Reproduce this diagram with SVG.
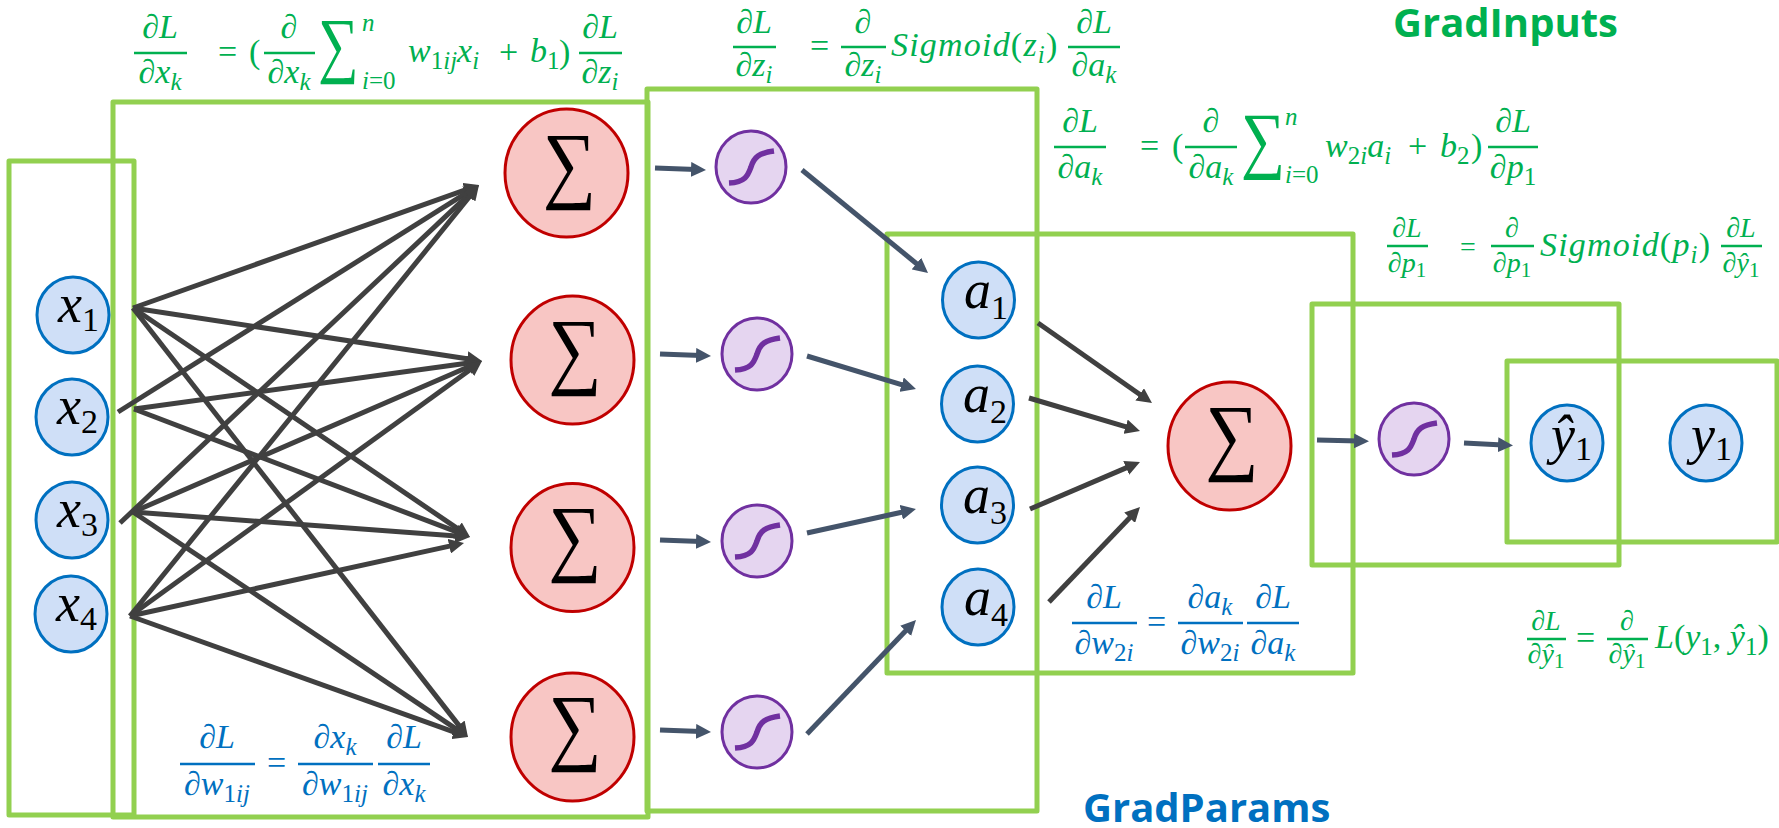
<svg xmlns="http://www.w3.org/2000/svg" width="1779" height="828" viewBox="0 0 1779 828">
<defs>
<style>
.box{fill:none;stroke:#92D050;stroke-width:5;stroke-linejoin:round}
.inp{fill:#CFDFF7;stroke:#0070C0;stroke-width:3}
.sum{fill:#F8C6C4;stroke:#C00000;stroke-width:3}
.sig{fill:#E5D5F0;stroke:#7030A0;stroke-width:3}
.curve{fill:none;stroke:#7030A0;stroke-width:5.5}
.dk{stroke:#404040;stroke-width:5;fill:none;marker-end:url(#hd)}
.sl{stroke:#44546A;stroke-width:5;fill:none;marker-end:url(#hs)}
text{font-family:"Liberation Serif","DejaVu Serif",serif}
.nl{font-size:54px;font-style:italic;fill:#000}
.ns{font-size:34px;font-style:normal}
.sg{font-size:86px;fill:#000;text-anchor:middle}
.g{fill:#00B050;font-style:italic;font-size:34px}
.b{fill:#0070C0;font-style:italic;font-size:34px}
.s{font-size:25px}
.m{text-anchor:middle}
.sm{font-size:28px}
.sms{font-size:21px}
.u{font-style:normal}
.bg{stroke:#00B050;stroke-width:2.5}
.bb{stroke:#0070C0;stroke-width:2.5}
.big{font-size:86px;font-style:normal;text-anchor:middle}
.wide{letter-spacing:1.2px}
.t{font-family:"Open Sans","Liberation Sans",sans-serif;font-weight:700;font-size:40px}
</style>
<marker id="hd" viewBox="0 0 3 3" refX="1" refY="1.5" markerWidth="3" markerHeight="3" orient="auto"><path d="M0 0L3 1.5L0 3z" fill="#404040"/></marker>
<marker id="hs" viewBox="0 0 3 3" refX="1" refY="1.5" markerWidth="3" markerHeight="3" orient="auto"><path d="M0 0L3 1.5L0 3z" fill="#44546A"/></marker>
</defs>
<g id="boxes">
<rect class="box" x="9" y="161" width="125" height="654"/>
<rect class="box" x="113" y="102" width="535" height="715"/>
<rect class="box" x="647" y="89" width="390" height="722"/>
<rect class="box" x="887" y="234" width="466" height="439"/>
<rect class="box" x="1312" y="304" width="307" height="261"/>
<rect class="box" x="1507" y="361" width="270" height="181"/>
</g>
<g id="connectors">
<line class="dk" x1="133" y1="308" x2="469.6" y2="188.4"/>
<line class="dk" x1="133" y1="308" x2="472.1" y2="359.5"/>
<line class="dk" x1="133" y1="308" x2="461.7" y2="531.4"/>
<line class="dk" x1="133" y1="308" x2="461.8" y2="729.1"/>
<line class="dk" x1="118" y1="412" x2="470.5" y2="190.3"/>
<line class="dk" x1="134" y1="409" x2="472.1" y2="362.4"/>
<line class="dk" x1="134" y1="409" x2="460.7" y2="533.4"/>
<line class="dk" x1="120" y1="523" x2="471.7" y2="191.9"/>
<line class="dk" x1="133" y1="512" x2="472.8" y2="365"/>
<line class="dk" x1="133" y1="512" x2="460" y2="536.3"/>
<line class="dk" x1="133" y1="512" x2="459.7" y2="731.4"/>
<line class="dk" x1="130" y1="616" x2="472.7" y2="192.8"/>
<line class="dk" x1="130" y1="616" x2="473.9" y2="366.9"/>
<line class="dk" x1="130" y1="616" x2="454.2" y2="545.1"/>
<line class="dk" x1="130" y1="616" x2="458.6" y2="733.6"/>
<line class="sl" x1="655" y1="168" x2="696" y2="169.6"/>
<line class="sl" x1="660" y1="354" x2="701" y2="355.6"/>
<line class="sl" x1="660" y1="540" x2="701" y2="541.6"/>
<line class="sl" x1="660" y1="730" x2="701" y2="731.6"/>
<line class="sl" x1="802" y1="170" x2="920.3" y2="266.7"/>
<line class="sl" x1="807" y1="356" x2="906.4" y2="386.1"/>
<line class="sl" x1="807" y1="533" x2="906.2" y2="511.2"/>
<line class="sl" x1="807" y1="734" x2="909.1" y2="627.2"/>
<line class="dk" x1="1038" y1="323" x2="1143.8" y2="397.3"/>
<line class="dk" x1="1029" y1="398" x2="1130.4" y2="428.2"/>
<line class="dk" x1="1030" y1="509" x2="1130.8" y2="465.9"/>
<line class="dk" x1="1049" y1="602" x2="1133.1" y2="514.2"/>
<line class="sl" x1="1317" y1="440" x2="1359" y2="441"/>
<line class="sl" x1="1464" y1="443" x2="1503" y2="445"/>
</g>
<g id="x1"><ellipse class="inp" cx="73" cy="315" rx="36" ry="38"/><text class="nl" x="58" y="322">x<tspan class="ns" dy="9">1</tspan></text></g>
<g id="x2"><ellipse class="inp" cx="72" cy="417" rx="36" ry="38"/><text class="nl" x="57" y="424">x<tspan class="ns" dy="9">2</tspan></text></g>
<g id="x3"><ellipse class="inp" cx="72" cy="520" rx="36" ry="38"/><text class="nl" x="57" y="527">x<tspan class="ns" dy="9">3</tspan></text></g>
<g id="x4"><ellipse class="inp" cx="71" cy="614" rx="36" ry="38"/><text class="nl" x="56" y="621">x<tspan class="ns" dy="9">4</tspan></text></g>
<g id="sum1"><ellipse class="sum" cx="566.5" cy="173" rx="61.5" ry="64"/><text class="sg" transform="translate(569.5 192) scale(.87 1)">∑</text></g>
<g id="sum2"><ellipse class="sum" cx="572.5" cy="360" rx="61.5" ry="64"/><text class="sg" transform="translate(575 378) scale(.87 1)">∑</text></g>
<g id="sum3"><ellipse class="sum" cx="572.5" cy="547.5" rx="61.5" ry="64"/><text class="sg" transform="translate(575 565) scale(.87 1)">∑</text></g>
<g id="sum4"><ellipse class="sum" cx="572.5" cy="737" rx="61.5" ry="64"/><text class="sg" transform="translate(575 754) scale(.87 1)">∑</text></g>
<g id="sum5"><ellipse class="sum" cx="1229.5" cy="446" rx="61.5" ry="64"/><text class="sg" transform="translate(1232 464) scale(.87 1)">∑</text></g>
<g id="sig1"><ellipse class="sig" cx="751" cy="167" rx="35" ry="36"/><path class="curve" transform="translate(751 167)" d="M-22 16C-5 15-3 8 0 0C3-10 8-14 23-16"/></g>
<g id="sig2"><ellipse class="sig" cx="757" cy="354" rx="35" ry="36"/><path class="curve" transform="translate(757 354)" d="M-22 16C-5 15-3 8 0 0C3-10 8-14 23-16"/></g>
<g id="sig3"><ellipse class="sig" cx="757" cy="541" rx="35" ry="36"/><path class="curve" transform="translate(757 541)" d="M-22 16C-5 15-3 8 0 0C3-10 8-14 23-16"/></g>
<g id="sig4"><ellipse class="sig" cx="757" cy="732" rx="35" ry="36"/><path class="curve" transform="translate(757 732)" d="M-22 16C-5 15-3 8 0 0C3-10 8-14 23-16"/></g>
<g id="sig5"><ellipse class="sig" cx="1414" cy="439" rx="35" ry="36"/><path class="curve" transform="translate(1414 439)" d="M-22 16C-5 15-3 8 0 0C3-10 8-14 23-16"/></g>
<g id="a1"><ellipse class="inp" cx="978.5" cy="300" rx="36" ry="38"/><text class="nl" x="964" y="308">a<tspan class="ns" dy="11">1</tspan></text></g>
<g id="a2"><ellipse class="inp" cx="977.5" cy="404" rx="36" ry="38"/><text class="nl" x="963" y="412">a<tspan class="ns" dy="11">2</tspan></text></g>
<g id="a3"><ellipse class="inp" cx="977.5" cy="505" rx="36" ry="38"/><text class="nl" x="963" y="513">a<tspan class="ns" dy="11">3</tspan></text></g>
<g id="a4"><ellipse class="inp" cx="978" cy="607" rx="36" ry="38"/><text class="nl" x="964" y="615">a<tspan class="ns" dy="11">4</tspan></text></g>
<g id="yhat"><ellipse class="inp" cx="1567" cy="443" rx="36" ry="38"/><text class="nl" x="1551" y="453">ŷ<tspan class="ns" dy="7">1</tspan></text></g>
<g id="y1"><ellipse class="inp" cx="1706" cy="443" rx="36" ry="38"/><text class="nl" x="1691" y="453">y<tspan class="ns" dy="7">1</tspan></text></g>
<g id="eq1" class="g">
<line class="bg" x1="134" y1="53" x2="187" y2="53"/>
<text class="g m" x="160" y="38">∂L</text>
<text class="g m" x="160" y="83">∂x<tspan class="s" dy="7">k</tspan></text>
<text class="g" x="218" y="63"><tspan class="u">=</tspan></text>
<text class="g" x="249" y="63"><tspan class="u">(</tspan></text>
<line class="bg" x1="264" y1="53" x2="315" y2="53"/>
<text class="g m" x="289" y="38">∂</text>
<text class="g m" x="289" y="83">∂x<tspan class="s" dy="7">k</tspan></text>
<text class="g big" transform="translate(338.5 69) scale(.66 .85)">∑</text>
<text class="g s" x="362" y="31">n</text>
<text class="g s" x="362" y="89">i<tspan class="u">=0</tspan></text>
<text class="g" x="408" y="62">w<tspan class="s" dy="7"><tspan class="u">1</tspan>ij</tspan><tspan dy="-7">x</tspan><tspan class="s" dy="7">i</tspan></text>
<text class="g" x="499" y="63"><tspan class="u">+</tspan></text>
<text class="g" x="530" y="62">b<tspan class="s u" dy="7">1</tspan></text>
<text class="g" x="559" y="63"><tspan class="u">)</tspan></text>
<line class="bg" x1="579" y1="53" x2="622" y2="53"/>
<text class="g m" x="600" y="38">∂L</text>
<text class="g m" x="600" y="83">∂z<tspan class="s" dy="7">i</tspan></text>
</g>
<g id="eq2" class="g">
<line class="bg" x1="733" y1="47" x2="776" y2="47"/>
<text class="g m" x="754" y="33">∂L</text>
<text class="g m" x="754" y="76">∂z<tspan class="s" dy="7">i</tspan></text>
<text class="g" x="810" y="57"><tspan class="u">=</tspan></text>
<line class="bg" x1="841" y1="47" x2="886" y2="47"/>
<text class="g m" x="863" y="33">∂</text>
<text class="g m" x="863" y="76">∂z<tspan class="s" dy="7">i</tspan></text>
<text class="g wide" x="891" y="56">Sigmoid<tspan class="u">(</tspan>z<tspan class="s" dy="7">i</tspan><tspan class="u" dy="-7">)</tspan></text>
<line class="bg" x1="1068" y1="47" x2="1120" y2="47"/>
<text class="g m" x="1094" y="33">∂L</text>
<text class="g m" x="1094" y="76">∂a<tspan class="s" dy="7">k</tspan></text>
</g>
<g id="eq3" class="g">
<line class="bg" x1="1054" y1="147" x2="1106" y2="147"/>
<text class="g m" x="1080" y="132">∂L</text>
<text class="g m" x="1080" y="178">∂a<tspan class="s" dy="7">k</tspan></text>
<text class="g" x="1140" y="157"><tspan class="u">=</tspan></text>
<text class="g" x="1172" y="157"><tspan class="u">(</tspan></text>
<line class="bg" x1="1185" y1="147" x2="1237" y2="147"/>
<text class="g m" x="1211" y="132">∂</text>
<text class="g m" x="1211" y="178">∂a<tspan class="s" dy="7">k</tspan></text>
<text class="g big" transform="translate(1263 164) scale(.72 .86)">∑</text>
<text class="g s" x="1285" y="125">n</text>
<text class="g s" x="1285" y="183">i<tspan class="u">=0</tspan></text>
<text class="g" x="1325" y="157">w<tspan class="s" dy="7"><tspan class="u">2</tspan>i</tspan><tspan dy="-7">a</tspan><tspan class="s" dy="7">i</tspan></text>
<text class="g" x="1408" y="157"><tspan class="u">+</tspan></text>
<text class="g" x="1440" y="157">b<tspan class="s u" dy="7">2</tspan></text>
<text class="g" x="1471" y="157"><tspan class="u">)</tspan></text>
<line class="bg" x1="1488" y1="147" x2="1538" y2="147"/>
<text class="g m" x="1513" y="132">∂L</text>
<text class="g m" x="1513" y="178">∂p<tspan class="s u" dy="7">1</tspan></text>
</g>
<g id="eq4" class="g">
<line class="bg" x1="1387" y1="246" x2="1428" y2="246"/>
<text class="g m sm" x="1407" y="237">∂L</text>
<text class="g m sm" x="1407" y="272">∂p<tspan class="sms u" dy="5">1</tspan></text>
<text class="g sm" x="1460" y="256"><tspan class="u">=</tspan></text>
<line class="bg" x1="1491" y1="246" x2="1534" y2="246"/>
<text class="g m sm" x="1512" y="237">∂</text>
<text class="g m sm" x="1512" y="272">∂p<tspan class="sms u" dy="5">1</tspan></text>
<text class="g wide" x="1540" y="256">Sigmoid<tspan class="u">(</tspan>p<tspan class="s" dy="7">i</tspan><tspan class="u" dy="-7">)</tspan></text>
<line class="bg" x1="1721" y1="246" x2="1762" y2="246"/>
<text class="g m sm" x="1741" y="237">∂L</text>
<text class="g m sm" x="1741" y="272">∂ŷ<tspan class="sms u" dy="5">1</tspan></text>
</g>
<g id="eq5" class="g">
<line class="bg" x1="1527" y1="639" x2="1566" y2="639"/>
<text class="g m sm" x="1546" y="630">∂L</text>
<text class="g m sm" x="1546" y="663">∂ŷ<tspan class="sms u" dy="5">1</tspan></text>
<text class="g" x="1576" y="649"><tspan class="u">=</tspan></text>
<line class="bg" x1="1607" y1="639" x2="1648" y2="639"/>
<text class="g m sm" x="1627" y="630">∂</text>
<text class="g m sm" x="1627" y="663">∂ŷ<tspan class="sms u" dy="5">1</tspan></text>
<text class="g" x="1655" y="648">L<tspan class="u">(</tspan>y<tspan class="s u" dy="7">1</tspan><tspan class="u" dy="-7">, </tspan>ŷ<tspan class="s u" dy="7">1</tspan><tspan class="u" dy="-7">)</tspan></text>
</g>
<g id="eq6" class="b">
<line class="bb" x1="1072" y1="623" x2="1137" y2="623"/>
<text class="b m" x="1104" y="608">∂L</text>
<text class="b m" x="1104" y="654">∂w<tspan class="s" dy="7"><tspan class="u">2</tspan>i</tspan></text>
<text class="b" x="1147" y="633"><tspan class="u">=</tspan></text>
<line class="bb" x1="1178" y1="623" x2="1243" y2="623"/>
<text class="b m" x="1210" y="608">∂a<tspan class="s" dy="7">k</tspan></text>
<text class="b m" x="1210" y="654">∂w<tspan class="s" dy="7"><tspan class="u">2</tspan>i</tspan></text>
<line class="bb" x1="1247" y1="623" x2="1299" y2="623"/>
<text class="b m" x="1273" y="608">∂L</text>
<text class="b m" x="1273" y="654">∂a<tspan class="s" dy="7">k</tspan></text>
</g>
<g id="eq7" class="b">
<line class="bb" x1="180" y1="764" x2="255" y2="764"/>
<text class="b m" x="217" y="748">∂L</text>
<text class="b m" x="217" y="795">∂w<tspan class="s" dy="7"><tspan class="u">1</tspan>ij</tspan></text>
<text class="b" x="267" y="774"><tspan class="u">=</tspan></text>
<line class="bb" x1="298" y1="764" x2="373" y2="764"/>
<text class="b m" x="335" y="748">∂x<tspan class="s" dy="7">k</tspan></text>
<text class="b m" x="335" y="795">∂w<tspan class="s" dy="7"><tspan class="u">1</tspan>ij</tspan></text>
<line class="bb" x1="378" y1="764" x2="430" y2="764"/>
<text class="b m" x="404" y="748">∂L</text>
<text class="b m" x="404" y="795">∂x<tspan class="s" dy="7">k</tspan></text>
</g>
<text class="t" x="1393" y="37" fill="#00B050">GradInputs</text>
<text class="t" x="1083" y="822" fill="#0070C0">GradParams</text>
</svg>
